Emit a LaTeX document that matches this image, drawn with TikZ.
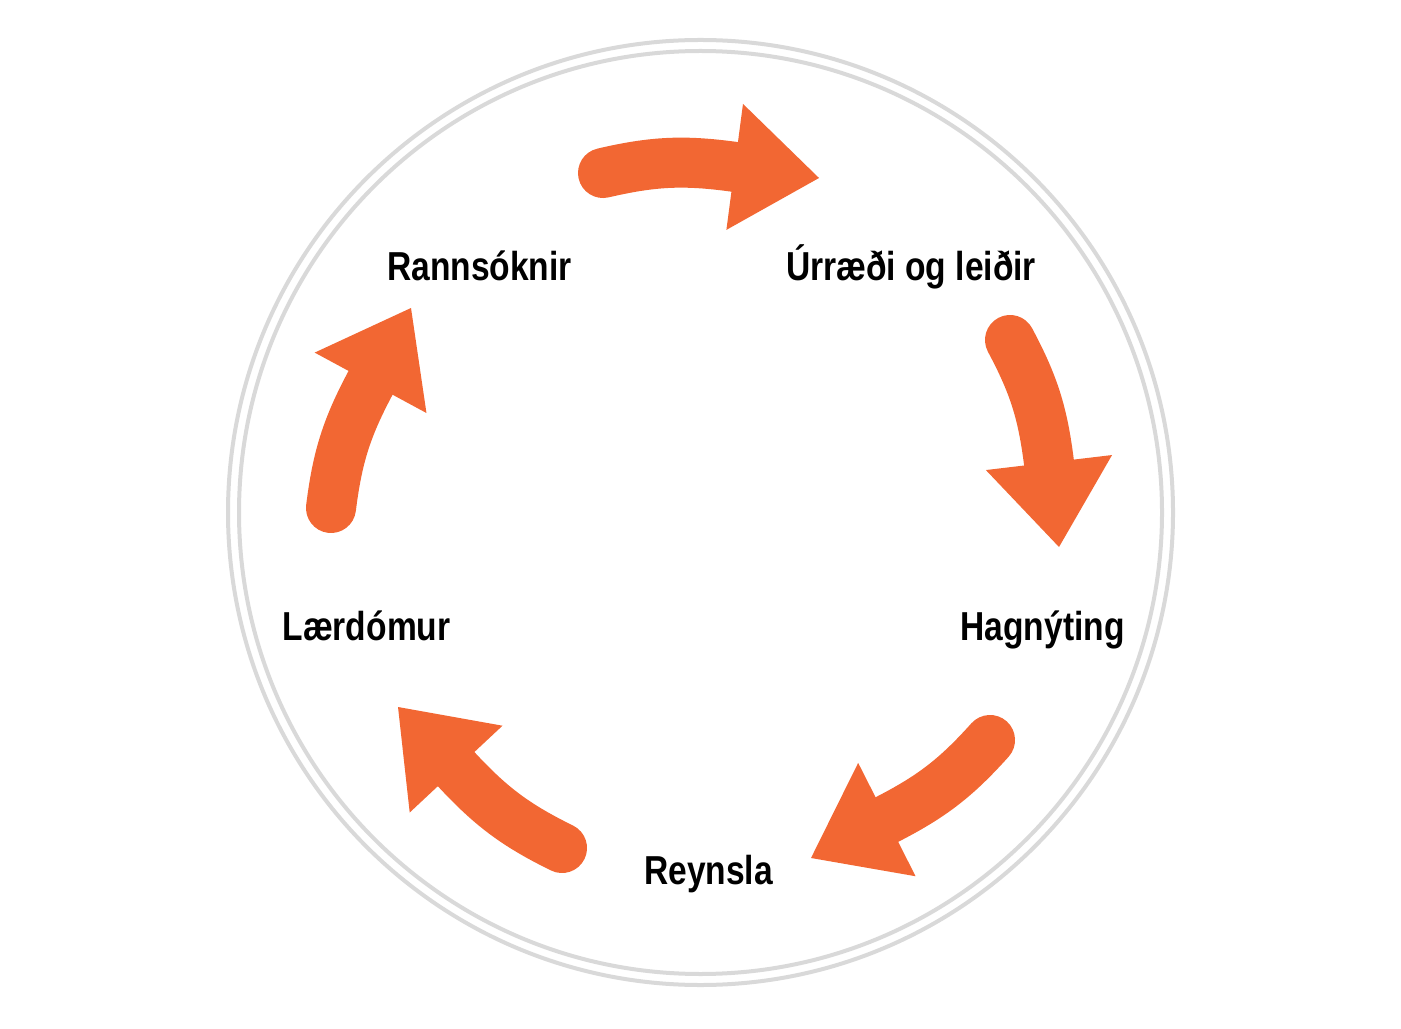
\documentclass[tikz,border=0pt]{standalone}
\usepackage{fontspec}
\setmainfont{Liberation Sans}[FakeStretch=0.83]
\usetikzlibrary{arrows.meta,bending}
\definecolor{appelsina}{RGB}{242,103,51}
\definecolor{grar}{RGB}{217,217,217}
\tikzset{
  hringur/.style={draw=grar,line width=0.4mm},
  heiti/.style={font=\fontsize{11.5}{14}\selectfont\bfseries,anchor=base},
  orv/.style={draw=appelsina,line width=5mm,line cap=round,line join=round,
    -{Triangle[length=8.5mm,width=12.7mm,line width=0pt]}}
}
\begin{document}
\begin{tikzpicture}[x=0.01cm,y=0.01cm]
\useasboundingbox (0,0) rectangle (1401,-1028);
\draw[hringur] (700.5,-512.5) circle (472.5);
\draw[hringur] (700.5,-512.5) circle (461.5);

\node[heiti] (rann) at (479.5,-281) {Rannsóknir};
\node[heiti] (urr) at (911,-281) {Úrræði og leiðir};
\node[heiti] (hagn) at (1042.5,-640) {Hagnýting};
\node[heiti] (reyn) at (708.5,-884) {Reynsla};
\node[heiti] (laer) at (366.5,-640) {Lærdómur};

% upphaf, botn og oddur hverrar orvar
\coordinate (a1) at (603,-173) ; \coordinate (m1) at (735.5,-167) ; \coordinate (b1) at (819,-178) ;
\coordinate (a2) at (1010,-340) ; \coordinate (m2) at (1049,-463) ; \coordinate (b2) at (1059,-547) ;
\coordinate (a3) at (990,-740) ; \coordinate (m3) at (886,-820) ; \coordinate (b3) at (811,-858) ;
\coordinate (a4) at (562,-848) ; \coordinate (m4) at (456,-769) ; \coordinate (b4) at (398,-707) ;
\coordinate (a5) at (331,-508) ; \coordinate (m5) at (371,-382) ; \coordinate (b5) at (411,-308) ;

\draw[orv] (a1) to[bend left=10.5] (m1) -- (b1) ;
\draw[orv] (a2) to[bend left=10.5] (m2) -- (b2) ;
\draw[orv] (a3) to[bend left=10.5] (m3) -- (b3) ;
\draw[orv] (a4) to[bend left=10.5] (m4) -- (b4) ;
\draw[orv] (a5) to[bend left=10.5] (m5) -- (b5) ;
\end{tikzpicture}
\end{document}
